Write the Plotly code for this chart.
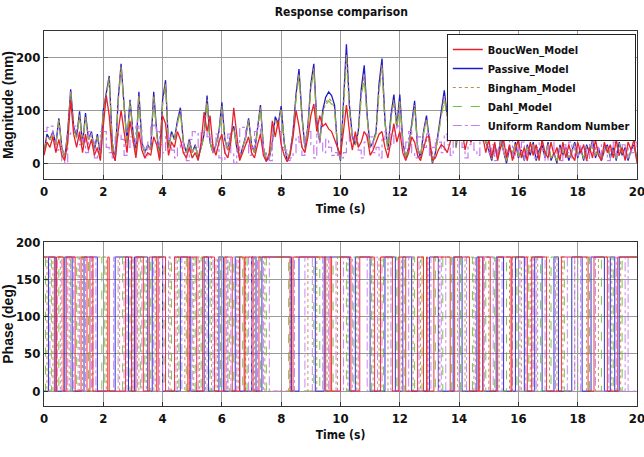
import numpy as np
import plotly.graph_objects as go

# ---- time base (s) ----
time_s = np.round(np.arange(0, 20.0001, 0.1), 1)

# ---- response magnitudes (mm), one sample every 0.1 s ----
passive_mag = [
    20, 55, 45, 60, 35, 85, 30, 10, 60, 140,
    70, 50, 98, 35, 95, 45, 60, 25, 55, 15,
    100, 135, 165, 40, 5, 120, 188, 110, 40, 120,
    60, 20, 135, 40, 20, 35, 25, 135, 60, 10,
    120, 157, 30, 60, 45, 80, 105, 40, 20, 45,
    20, 35, 10, 30, 55, 128, 40, 20, 35, 60,
    115, 45, 25, 55, 70, 30, 10, 30, 50, 85,
    35, 20, 60, 110, 30, 5, 10, 40, 88, 75,
    108, 40, 5, 20, 60, 130, 178, 90, 30, 70,
    150, 188, 80, 40, 100, 125, 135, 128, 110, 30,
    5, 120, 225, 110, 50, 35, 60, 140, 185, 90,
    30, 40, 60, 150, 198, 80, 25, 90, 130, 70,
    130, 40, 10, 30, 80, 118, 30, 10, 60, 90,
    40, 0, 20, 60, 95, 138, 90, 60, 98, 30,
    90, 150, 60, 128, 80, 120, 140, 180, 90, 40,
    25, 5, 35, 10, 45, 20, 0, 30, 15, 40,
    10, 25, 5, 35, 15, 40, 5, 25, 35, 10,
    40, 5, 20, 0, 35, 15, 30, 5, 25, 40,
    10, 30, 5, 35, 20, 45, 10, 30, 5, 25,
    35, 10, 30, 5, 40, 15, 30, 5, 25, 35,
    5,
]

dahl_mag = [
    20, 50, 45, 55, 35, 80, 30, 12, 55, 132,
    65, 48, 90, 35, 88, 45, 55, 25, 50, 15,
    95, 130, 160, 40, 8, 115, 180, 105, 40, 115,
    55, 20, 125, 40, 20, 35, 25, 125, 55, 12,
    110, 148, 30, 55, 45, 75, 98, 40, 20, 42,
    20, 35, 12, 30, 50, 118, 40, 20, 35, 55,
    105, 45, 25, 50, 65, 30, 12, 30, 48, 80,
    35, 20, 58, 105, 30, 8, 12, 40, 82, 70,
    100, 40, 8, 20, 55, 120, 165, 85, 30, 65,
    140, 175, 75, 40, 90, 110, 118, 112, 100, 30,
    8, 105, 198, 100, 48, 35, 55, 125, 160, 85,
    30, 40, 55, 135, 180, 75, 25, 80, 115, 65,
    115, 40, 12, 30, 72, 105, 30, 12, 55, 82,
    40, 3, 20, 55, 85, 122, 82, 55, 88, 30,
    82, 135, 55, 112, 72, 105, 122, 148, 80, 40,
    30, 10, 30, 15, 40, 25, 5, 25, 20, 35,
    15, 20, 10, 30, 20, 35, 10, 20, 30, 15,
    35, 10, 20, 5, 30, 20, 25, 10, 20, 35,
    15, 25, 10, 30, 20, 40, 15, 25, 10, 20,
    30, 15, 25, 10, 35, 20, 25, 10, 20, 30,
    10,
]

bingham_mag = [
    22, 52, 44, 57, 34, 82, 28, 11, 57, 136,
    67, 47, 93, 34, 90, 44, 57, 24, 52, 14,
    97, 132, 162, 38, 7, 117, 183, 107, 38, 117,
    57, 19, 128, 38, 19, 34, 24, 128, 57, 11,
    113, 151, 29, 57, 44, 77, 100, 38, 19, 43,
    19, 34, 11, 29, 52, 121, 38, 19, 34, 57,
    108, 44, 24, 52, 67, 29, 11, 29, 49, 82,
    34, 19, 59, 107, 29, 7, 11, 38, 84, 72,
    103, 38, 7, 19, 57, 124, 170, 87, 29, 67,
    144, 180, 77, 38, 93, 115, 123, 117, 104, 29,
    7, 110, 205, 104, 47, 34, 57, 130, 168, 87,
    29, 38, 57, 140, 186, 77, 24, 84, 120, 67,
    120, 38, 11, 29, 75, 110, 29, 11, 57, 85,
    38, 2, 19, 57, 88, 127, 85, 57, 91, 29,
    85, 140, 57, 117, 75, 110, 128, 158, 84, 38,
    28, 8, 32, 12, 42, 22, 3, 28, 18, 38,
    12, 22, 8, 32, 18, 38, 8, 22, 32, 12,
    38, 8, 18, 3, 32, 18, 28, 8, 22, 38,
    12, 28, 8, 32, 18, 42, 12, 28, 8, 22,
    32, 12, 28, 8, 38, 18, 28, 8, 22, 32,
    8,
]

boucwen_mag = [
    15, 40, 30, 50, 20, 45, 15, 5, 40, 120,
    55, 30, 60, 20, 55, 25, 45, 15, 30, 5,
    70, 128, 90, 20, 5, 60, 100, 55, 20, 80,
    40, 10, 60, 25, 10, 20, 15, 50, 35, 5,
    90, 75, 15, 40, 30, 60, 45, 20, 10, 30,
    10, 20, 5, 40, 97, 60, 90, 30, 15, 40,
    55, 20, 10, 40, 105, 50, 5, 20, 35, 50,
    20, 10, 35, 55, 15, 3, 20, 80, 50, 80,
    35, 15, 3, 15, 50, 100, 70, 30, 20, 50,
    90, 112, 60, 90, 70, 75, 65, 60, 45, 30,
    15, 60, 110, 60, 25, 60, 30, 40, 60, 50,
    15, 25, 40, 55, 60, 30, 10, 45, 75, 40,
    60, 20, 5, 20, 50, 40, 15, 5, 30, 50,
    50, 5, 10, 25, 35, 30, 20, 40, 70, 50,
    105, 60, 25, 50, 40, 55, 70, 95, 50, 20,
    45, 10, 40, 5, 30, 45, 10, 35, 5, 25,
    45, 10, 30, 5, 40, 15, 35, 5, 45, 20,
    10, 40, 15, 30, 5, 40, 10, 35, 15, 5,
    40, 20, 35, 5, 30, 10, 45, 15, 5, 40,
    20, 35, 10, 45, 15, 30, 5, 40, 25, 45,
    0,
]

uniform_mag = [
    60, 68, 70, 45, 25, 30, 5, 0, 55, 58,
    70, 60, 35, 45, 20, 60, 40, 10, 25, 60,
    60, 30, 20, 10, 50, 55, 45, 15, 30, 50,
    40, 70, 65, 30, 10, 40, 70, 72, 60, 35,
    20, 55, 45, 25, 10, 30, 40, 20, 5, 45,
    60, 58, 30, 60, 62, 50, 40, 20, 55, 10,
    5, 35, 55, 20, 0, 25, 65, 68, 40, 15,
    30, 60, 70, 50, 20, 10, 5, 70, 70, 60,
    30, 25, 5, 10, 20, 50, 40, 15, 55, 60,
    35, 10, 55, 40, 20, 45, 30, 15, 20, 15,
    10, 20, 40, 60, 50, 45, 25, 10, 40, 55,
    50, 20, 30, 10, 45, 60, 55, 35, 65, 70,
    50, 25, 40, 60, 20, 10, 50, 45, 30, 55,
    15, 30, 45, 40, 20, 55, 35, 15, 45, 60,
    50, 30, 10, 35, 50, 25, 15, 40, 60, 55,
    20, 35, 5, 25, 40, 15, 30, 45, 10, 30,
    20, 40, 5, 25, 35, 10, 30, 45, 20, 5,
    30, 40, 15, 25, 5, 35, 20, 40, 10, 30,
    15, 35, 25, 5, 40, 20, 30, 10, 35, 25,
    5, 30, 40, 15, 25, 35, 10, 30, 20, 40,
    25,
]

# ---- phase: instants (s) where each response flips between 0 and 180 deg ----
boucwen_flips = [0.35, 0.42, 0.65, 0.75, 1.05, 1.25, 1.45, 1.55, 1.65, 2.15, 2.2, 2.75,
                 2.95, 3.1, 3.35, 3.55, 3.8, 3.85, 4.1, 4.4, 4.85, 4.9, 5.15, 5.35, 5.75,
                 6.1, 6.35, 6.6, 6.75, 6.78, 7.05, 7.25, 8.3, 8.4, 9.5, 9.65, 9.7, 10.0,
                 10.35, 10.65, 11.15, 11.35, 11.75, 11.95, 12.2, 12.6, 12.8, 12.9, 12.92,
                 13.15, 13.7, 13.85, 14.35, 14.65, 14.68, 14.8, 15.05, 15.3, 15.75, 15.78,
                 16.3, 16.45, 16.95, 17.45, 18.35, 18.55, 19.0, 19.35]
passive_flips = [0.15, 0.4, 0.7, 0.95, 1.35, 1.8, 2.4, 2.85, 3.05, 3.5, 3.65, 4.0, 4.6,
                 4.95, 5.4, 5.55, 5.9, 6.05, 6.45, 6.6, 7.0, 7.15, 7.35, 8.35, 8.6, 9.15,
                 9.45, 10.3, 10.5, 11.0, 11.5, 11.85, 12.1, 12.4, 13.0, 13.3, 13.8, 14.1,
                 14.6, 14.8, 15.25, 15.5, 15.9, 16.2, 16.55, 16.8, 17.2, 17.35, 17.8,
                 18.15, 18.45, 18.9, 19.1, 19.25, 19.4]
bingham_flips = [0.1, 0.3, 0.55, 0.85, 1.15, 1.3, 2.1, 2.55, 3.0, 3.2, 3.45, 3.75, 4.25,
                 4.5, 4.75, 5.05, 5.25, 5.45, 5.65, 5.85, 6.2, 6.55, 6.8, 7.1, 7.45, 8.3,
                 8.9, 9.2, 9.55, 9.9, 10.25, 10.55, 11.1, 11.3, 11.6, 12.05, 12.45,
                 12.7, 12.95, 13.35, 13.95, 14.2, 14.5, 14.7, 15.0, 15.35, 15.7, 16.1,
                 16.4, 16.65, 17.05, 17.3, 17.5, 17.9, 18.3, 18.7, 19.15, 19.45]
dahl_flips = [0.05, 0.25, 0.5, 0.9, 1.1, 1.5, 1.95, 2.05, 2.65, 2.9, 3.25, 3.4, 3.6, 4.05,
              4.3, 4.55, 4.8, 5.1, 5.3, 5.6, 5.95, 6.25, 6.4, 6.7, 6.85, 7.3, 7.5, 8.25,
              9.1, 9.3, 9.75, 10.2, 10.45, 11.05, 11.45, 11.9, 12.15, 12.5, 12.75, 13.2,
              13.45, 13.75, 14.05, 14.45, 14.9, 15.2, 15.6, 15.95, 16.35, 16.75, 17.1,
              17.55, 18.0, 18.4, 18.8, 19.2, 19.5]
uniform_flips = [0.2, 0.45, 0.6, 0.8, 0.9, 1.0, 1.2, 1.4, 1.6, 1.65, 1.75, 2.35, 2.5, 2.7,
                 2.8, 2.95, 3.0, 3.15, 3.3, 3.7, 3.9, 4.0, 4.1, 4.2, 4.45, 4.65, 4.9, 5.0,
                 5.2, 5.5, 5.7, 5.8, 6.0, 6.15, 6.2, 6.3, 6.5, 6.9, 7.0, 7.05, 7.2, 7.4,
                 7.6, 8.45, 8.8, 9.05, 9.4, 9.6, 9.85, 10.1, 10.4, 10.6, 10.9, 11.0,
                 11.25, 11.4, 11.7, 12.0, 12.1, 12.3, 12.65, 13.05, 13.3, 13.4, 13.55,
                 14.0, 14.25, 14.55, 14.8, 14.85, 15.15, 15.45, 15.8, 16.05, 16.25,
                 16.45, 16.5, 16.6, 16.9, 17.25, 17.65, 17.9, 18.0, 18.1, 18.6, 19.05,
                 19.3, 19.6, 19.7]
phase_levels = [0, 180]
phase_start = {"BoucWen_Model": 180, "Passive_Model": 0, "Bingham_Model": 180,
               "Dahl_Model": 0, "Uniform Random Number": 180}

series = [
    # name, magnitude, flips, colour, dash, width, legend rank
    ("Passive_Model", passive_mag, passive_flips, "#1c1ccc", "solid", 1.3, 2),
    ("Dahl_Model", dahl_mag, dahl_flips, "#6cc23a", "dash", 1.2, 4),
    ("Bingham_Model", bingham_mag, bingham_flips, "#c58a4a", "dot", 1.2, 3),
    ("Uniform Random Number", uniform_mag, uniform_flips, "#c67cf0", "dashdot", 1.2, 5),
    ("BoucWen_Model", boucwen_mag, boucwen_flips, "#e8202a", "solid", 1.3, 1),
]


def phase_path(flips, start):
    """Step path of a phase that toggles between the two levels at each flip."""
    xs, ys = [0.0], [start]
    other = {phase_levels[0]: phase_levels[1], phase_levels[1]: phase_levels[0]}
    level = start
    for t in flips:
        level = other[level]
        xs.append(t)
        ys.append(level)
    xs.append(20.0)
    ys.append(level)
    return xs, ys


fig = go.Figure()
for name, mag, flips, colour, dash, width, rank in series:
    line_shape = "hv" if name == "Uniform Random Number" else "linear"
    fig.add_trace(go.Scatter(
        x=time_s, y=mag, name=name, mode="lines", line_shape=line_shape,
        line=dict(color=colour, dash=dash, width=width),
        legendrank=rank, xaxis="x", yaxis="y"))
for name, mag, flips, colour, dash, width, rank in series:
    px, py = phase_path(flips, phase_start[name])
    fig.add_trace(go.Scatter(
        x=px, y=py, name=name, mode="lines", line_shape="hv", showlegend=False,
        line=dict(color=colour, dash=dash, width=1), opacity=0.9,
        xaxis="x2", yaxis="y2"))

narrow = "DejaVu Sans Condensed, Liberation Sans, Arial, sans-serif"
plain = "Liberation Sans, Arial, sans-serif"
axis_common = dict(
    showline=True, linecolor="#333333", linewidth=1, mirror=True,
    showgrid=True, gridcolor="#9a9a9a", gridwidth=1,
    ticks="inside", ticklen=4, tickcolor="#333333",
    zeroline=False, ticklabeloverflow="allow", automargin=False,
    tickfont=dict(family=narrow, size=13, color="#111111", weight="bold"),
)
xcommon = dict(axis_common, range=[0, 20], tickvals=list(range(0, 21, 2)))

fig.update_layout(
    width=644, height=457,
    margin=dict(l=44, r=7, t=31, b=51),
    paper_bgcolor="white", plot_bgcolor="white",
    font=dict(family=plain, color="#111111"),
    title=dict(text="Response comparison", x=0.53, xanchor="center",
               y=0.975, yanchor="middle",
               font=dict(family=narrow, size=12, color="#111111", weight="bold")),
    xaxis=dict(xcommon, domain=[0, 1], anchor="y",
               title=dict(text="Time (s)", standoff=6,
                          font=dict(family=narrow, size=12, weight="bold"))),
    yaxis=dict(axis_common, domain=[0.605, 1], anchor="x", range=[-30, 250],
               tickvals=[0, 100, 200],
               title=dict(text="Magnitude (mm)", standoff=4,
                          font=dict(family=plain, size=14, weight="bold"))),
    xaxis2=dict(xcommon, domain=[0, 1], anchor="y2",
                title=dict(text="Time (s)", standoff=6,
                           font=dict(family=narrow, size=12, weight="bold"))),
    yaxis2=dict(axis_common, domain=[0, 0.437], anchor="x2", range=[-20, 200],
                tickvals=[0, 50, 100, 150, 200],
                title=dict(text="Phase (deg)", standoff=4,
                           font=dict(family=plain, size=14, weight="bold"))),
    legend=dict(x=0.998, y=0.992, xanchor="right", yanchor="top",
                bgcolor="white", bordercolor="#222222", borderwidth=1,
                font=dict(family=narrow, size=11, color="#111111", weight="bold"),
                itemwidth=30, tracegroupgap=0),
    showlegend=True,
)

fig.write_html("out.html")
